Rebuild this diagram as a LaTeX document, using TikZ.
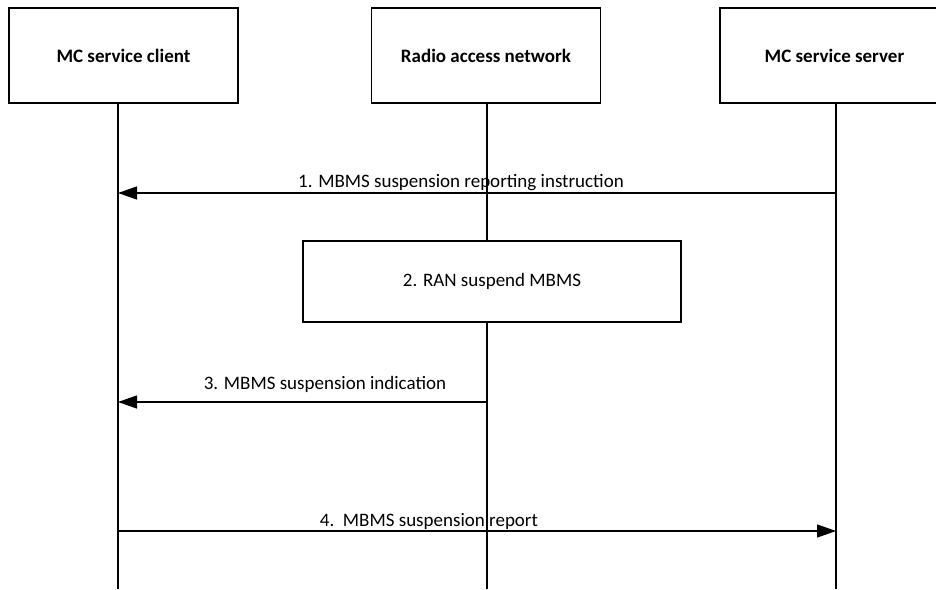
\documentclass[tikz,border=0pt]{standalone}
\usepackage{fontspec}
\setmainfont{Carlito}
\usetikzlibrary{arrows.meta}
\begin{document}
\begin{tikzpicture}[x=1pt,y=-1pt,
  line width=1.3pt,
  hdr/.style={draw, minimum width=229pt, minimum height=95pt, font=\fontsize{19}{22}\selectfont\bfseries, inner sep=0pt},
  procbox/.style={draw, fill=white, minimum width=378pt, minimum height=81pt, font=\fontsize{19}{22}\selectfont, inner sep=0pt},
  lbl/.style={anchor=base, font=\fontsize{19}{22}\selectfont, inner sep=0pt},
  msg/.style={-{Triangle[length=19pt,width=13pt]}},
  lifeline/.style={draw}]
\clip (0,0) rectangle (936,589);
\fill[white] (0,0) rectangle (936,589);
% header boxes
\node[hdr] (client) at (123.5,55.5) {MC service client};
\node[hdr] (ran) at (486,55.5) {Radio access network};
\node[hdr] (server) at (834.5,55.5) {MC service server};
% lifeline ends
\coordinate (cEnd) at (118,589);
\coordinate (rEnd) at (487,589);
\coordinate (sEnd) at (836,589);
\coordinate (cTop) at (118,103);
\coordinate (rTop) at (487,103);
\coordinate (sTop) at (836,103);
\draw[lifeline] (cTop) -- (cEnd);
\draw[lifeline] (rTop) -- (rEnd);
\draw[lifeline] (sTop) -- (sEnd);
% step 2 box
\node[procbox] (step2) at (492,281.5) {2. RAN suspend MBMS};
% message points
\coordinate (m1s) at (836,193);
\coordinate (m1c) at (118,193);
\coordinate (m3r) at (487,402);
\coordinate (m3c) at (118,402);
\coordinate (m4c) at (118,531);
\coordinate (m4s) at (836,531);
\draw[msg] (m1s) -- (m1c);
\draw[msg] (m3r) -- (m3c);
\draw[msg] (m4c) -- (m4s);
\node[lbl] (l1) at (461,187) {1. MBMS suspension reporting instruction};
\node[lbl] (l3) at (325,389) {3. MBMS suspension indication};
\node[lbl] (l4) at (429,526) {4.\ \ MBMS suspension report};
\end{tikzpicture}
\end{document}
